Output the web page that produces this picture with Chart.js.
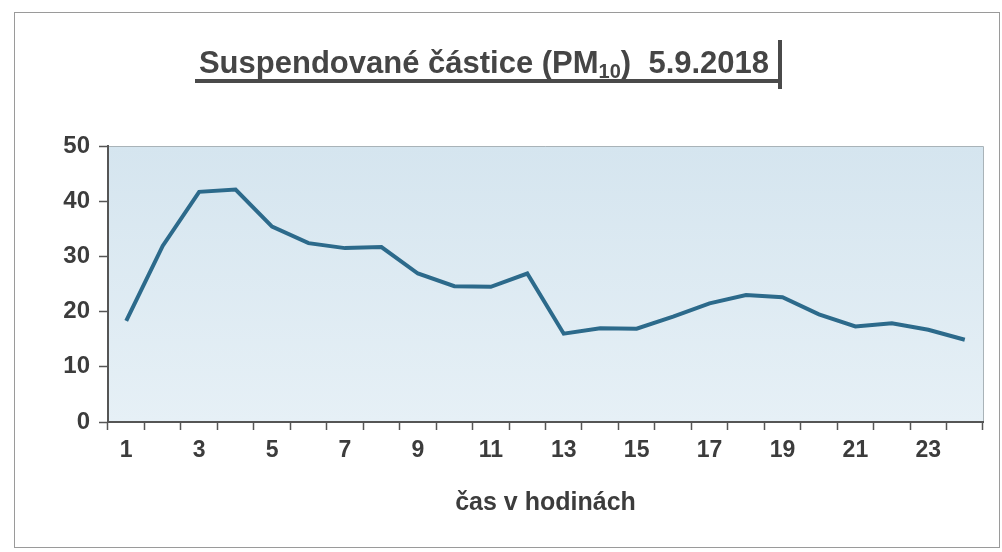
<!DOCTYPE html>
<html>
<head>
<meta charset="utf-8">
<script src="https://cdn.jsdelivr.net/npm/chart.js@4.4.0/dist/chart.umd.min.js"></script>
<style>
  html, body { margin: 0; padding: 0; background: #fff; }
  #wrap { width: 1002px; height: 552px; }
</style>
</head>
<body>
<div id="wrap"><canvas id="myChart" width="1002" height="552"></canvas></div>
<script>
// Data
const hours = Array.from({ length: 24 }, (_, i) => String(i + 1));
const pm10 = [18.3, 31.9, 41.7, 42.1, 35.4, 32.4, 31.5, 31.7, 26.9, 24.6, 24.5, 26.9,
  16.0, 17.0, 16.9, 19.1, 21.5, 23.0, 22.6, 19.5, 17.3, 17.9, 16.7, 14.9];
const yTicks = [0, 10, 20, 30, 40, 50];
const chartTitle = "Suspendované částice (PM";
const titleSub = "10";
const titleDate = ")  5.9.2018";
const xTitle = "čas v hodinách";

const FONT = "'Liberation Sans', Arial, sans-serif";
const textColor = "#3c3c3c";

// Page frame + title box + plot background
const decorPlugin = {
  id: "decor",
  beforeDraw(chart) {
    const c = chart.ctx;
    const a = chart.chartArea;
    c.save();
    // outer frame
    c.strokeStyle = "#9a9a9a";
    c.lineWidth = 1;
    c.strokeRect(14.5, 12.5, 985, 535);

    // plot background
    const g = c.createLinearGradient(a.left, a.top, a.left, a.bottom);
    g.addColorStop(0, "#d5e5ef");
    g.addColorStop(1, "#e6f0f6");
    c.fillStyle = g;
    c.fillRect(a.left, a.top, a.right - a.left, a.bottom - a.top);
    c.strokeStyle = "#a9b3b8";
    c.beginPath();
    c.moveTo(a.left, a.top + 0.5);
    c.lineTo(a.right + 0.5, a.top + 0.5);
    c.lineTo(a.right + 0.5, a.bottom);
    c.stroke();

    // title text
    const size = 31;
    c.fillStyle = "#454545";
    c.textBaseline = "alphabetic";
    c.font = "bold " + size + "px " + FONT;
    const subFont = "bold 20px " + FONT;
    const w1 = c.measureText(chartTitle).width;
    const w3 = c.measureText(titleDate).width;
    c.font = subFont;
    const w2 = c.measureText(titleSub).width;
    const total = w1 + w2 + w3;
    let x = 484 - total / 2;
    const base = 73;
    c.font = "bold " + size + "px " + FONT;
    c.fillText(chartTitle, x, base);
    x += w1;
    c.font = subFont;
    c.fillText(titleSub, x, base + 5);
    x += w2;
    c.font = "bold " + size + "px " + FONT;
    c.fillText(titleDate, x, base);

    // title box shadow
    c.fillStyle = "#4a4a4a";
    c.fillRect(195, 79, 587, 4);
    c.fillRect(778, 40, 4, 49);
    c.restore();
  },
};

const ctx = document.getElementById("myChart");

new Chart(ctx, {
  type: "line",
  data: {
    labels: hours,
    datasets: [
      {
        label: "PM10",
        data: pm10,
        borderColor: "#2c6a8b",
        borderWidth: 4,
        pointRadius: 0,
        tension: 0,
        fill: false,
      },
    ],
  },
  options: {
    responsive: false,
    animation: false,
    layout: { padding: { left: 0, right: 19, top: 146, bottom: 30 } },
    plugins: {
      legend: { display: false },
      tooltip: { enabled: false },
    },
    scales: {
      x: {
        type: "category",
        offset: true,
        grid: {
          offset: true,
          drawOnChartArea: false,
          drawTicks: true,
          tickLength: 8,
          tickColor: "#555",
          tickWidth: 1.5,
        },
        border: { color: "#555", width: 2 },
        ticks: {
          autoSkip: false,
          maxRotation: 0,
          padding: 7,
          color: textColor,
          font: { family: FONT, size: 23, weight: "bold" },
          callback: (v, i) => (i % 2 === 0 ? hours[i] : ""),
        },
        title: {
          display: true,
          text: xTitle,
          color: textColor,
          font: { family: FONT, size: 25, weight: "bold" },
          padding: { top: 4, bottom: 4 },
        },
        afterFit: (s) => { s.height = 100; },
      },
      y: {
        min: 0,
        max: 50,
        afterBuildTicks: (s) => { s.ticks = yTicks.map((v) => ({ value: v })); },
        grid: {
          drawOnChartArea: false,
          tickLength: 9,
          tickColor: "#555",
          tickWidth: 1.5,
        },
        border: { color: "#555", width: 2 },
        ticks: {
          padding: 9,
          color: textColor,
          font: { family: FONT, size: 24, weight: "bold" },
        },
        afterFit: (s) => { s.width = 108; },
      },
    },
  },
  plugins: [decorPlugin],
});
</script>
</body>
</html>
